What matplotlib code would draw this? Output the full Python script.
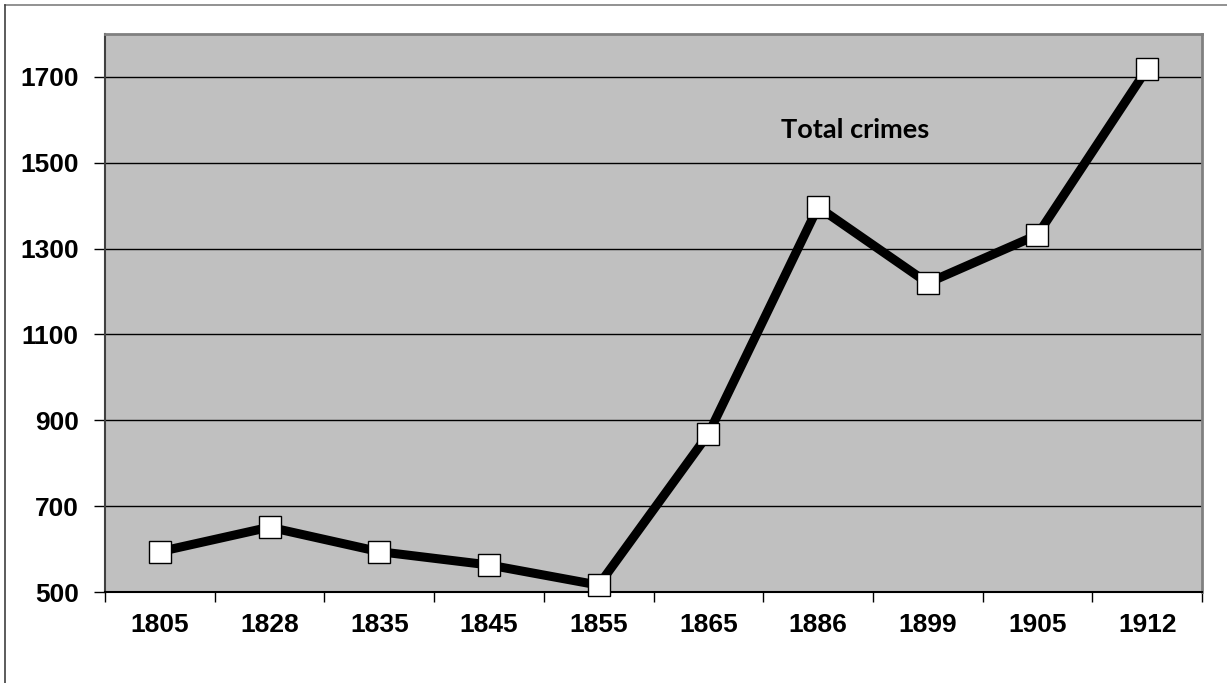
import matplotlib.pyplot as plt
from matplotlib.lines import Line2D

years = ["1805", "1828", "1835", "1845", "1855", "1865", "1886", "1899", "1905", "1912"]
crimes = [594, 651, 594, 563, 516, 868, 1397, 1220, 1332, 1719]
y_ticks = [500, 700, 900, 1100, 1300, 1500, 1700]

W, H = 1227, 683
fig = plt.figure(figsize=(W / 100, H / 100), dpi=100)

# outer frame of the chart object
fig.add_artist(Line2D([5 / W, 1], [1 - 5 / H, 1 - 5 / H], color="#7f7f7f", lw=1.2))
fig.add_artist(Line2D([5 / W, 5 / W], [0, 1 - 5 / H], color="#404040", lw=1.2))

ax = fig.add_axes([105 / W, 91 / H, 1097 / W, 558 / H])
ax.set_facecolor("#c0c0c0")

x = list(range(len(years)))
ax.plot(x, crimes, color="black", lw=6.5, marker="s", markersize=16.5,
        markerfacecolor="white", markeredgecolor="black", markeredgewidth=1,
        zorder=3, clip_on=False)

ax.set_xlim(-0.5, len(years) - 0.5)
ax.set_ylim(500, 1800)
ax.set_yticks(y_ticks)
ax.set_yticklabels([str(v) for v in y_ticks], fontsize=19, fontweight="bold",
                   family=["Liberation Sans", "DejaVu Sans"])
ax.set_xticks(x)
ax.set_xticklabels(years, fontsize=19, fontweight="bold",
                   family=["Liberation Sans", "DejaVu Sans"])

# category boundaries carry the x tick marks
ax.set_xticks([i - 0.5 for i in range(len(years) + 1)], minor=True)
ax.tick_params(axis="x", which="major", length=0, pad=15)
ax.tick_params(axis="x", which="minor", length=7, color="black", width=1)
ax.tick_params(axis="y", length=8, color="black", width=1, pad=11)

for v in y_ticks[1:]:
    ax.axhline(v, color="black", lw=1, zorder=1)

ax.spines["top"].set_color("#808080")
ax.spines["right"].set_color("#808080")
ax.spines["top"].set_linewidth(2)
ax.spines["right"].set_linewidth(2)
ax.spines["left"].set_color("#404040")
ax.spines["bottom"].set_color("black")
ax.spines["left"].set_linewidth(1.5)
ax.spines["bottom"].set_linewidth(1.5)

ax.text(6.34, 1576, "Total crimes", fontsize=19.5, fontweight="bold",
        family=["Lato", "DejaVu Sans"], ha="center", va="center")

fig.savefig("out.png", dpi=100)
